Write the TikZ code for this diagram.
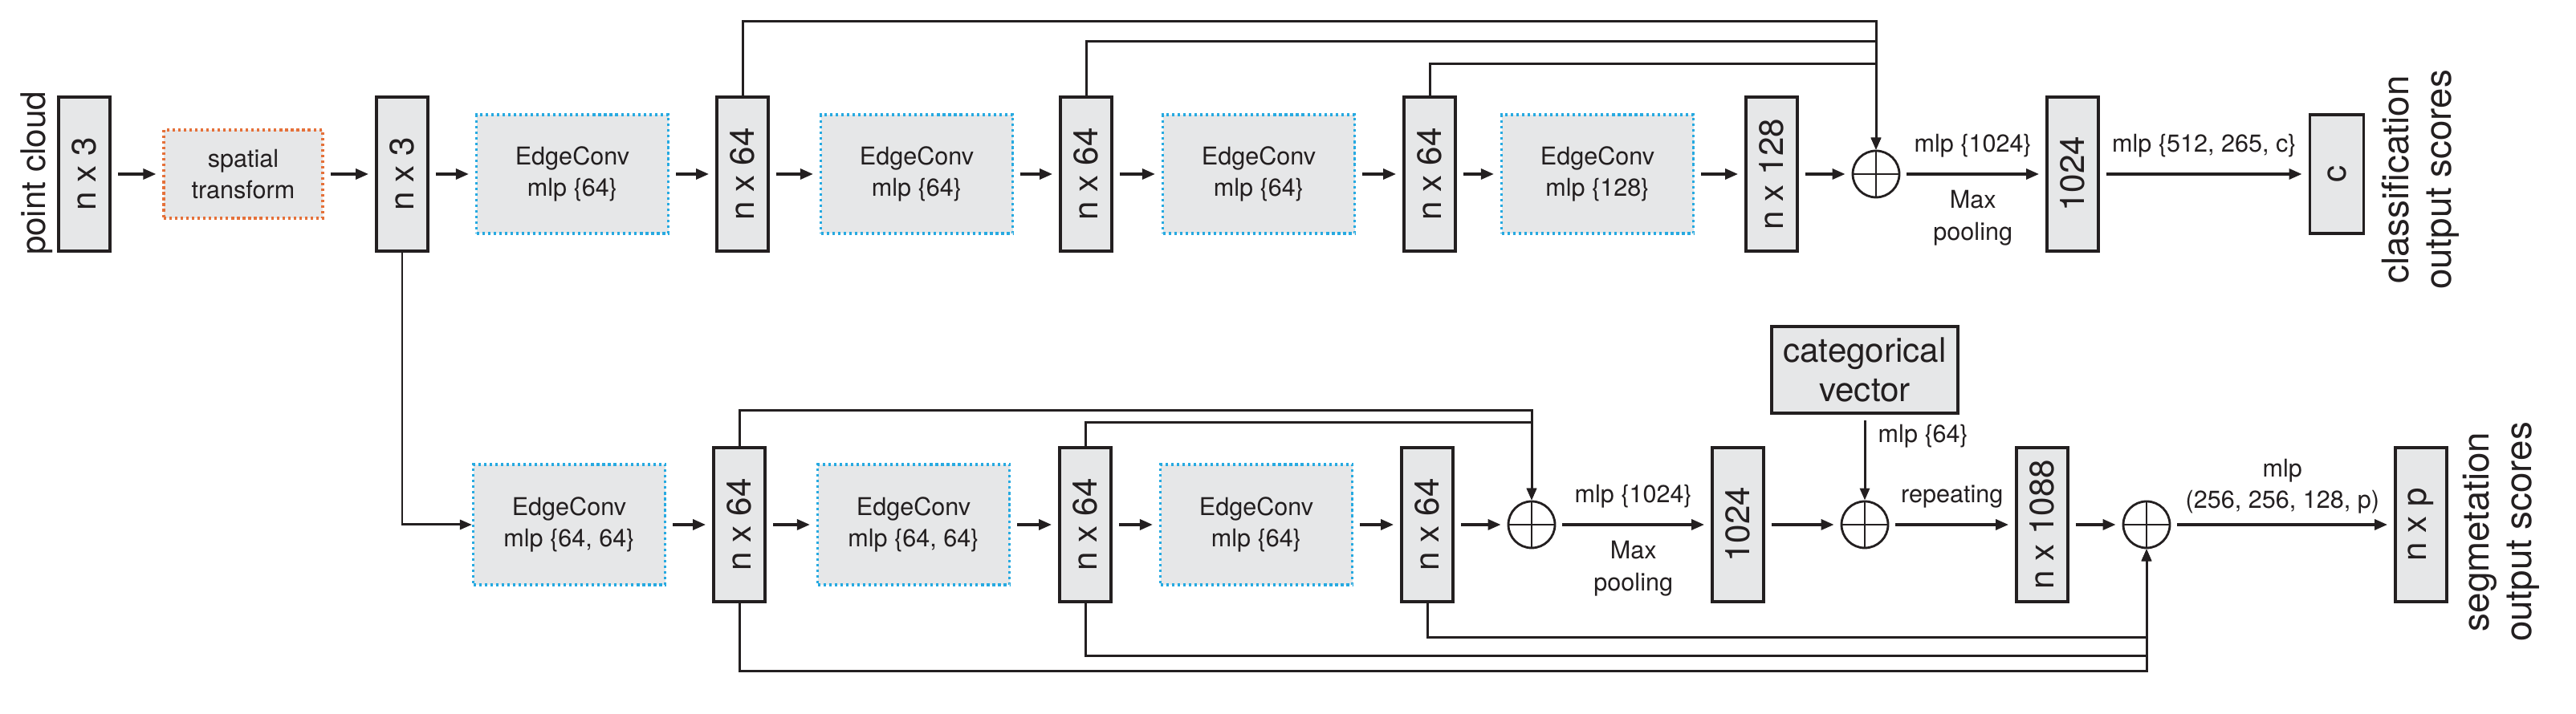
\documentclass[tikz,border=0pt]{standalone}
\usepackage{fontspec}
\setmainfont{TeX Gyre Heros}
\usepackage{tikz}
\usetikzlibrary{arrows.meta}
\definecolor{boxgray}{HTML}{E6E7E8}
\definecolor{edgeblue}{HTML}{27AAE1}
\definecolor{transred}{HTML}{E5713A}
\definecolor{ink}{HTML}{231F20}

\begin{document}
\begin{tikzpicture}[
  feat/.style = {draw=ink, line width=1.1pt, fill=boxgray, rotate=90, minimum width=1.92cm, minimum height=0.64cm, inner sep=0pt, text=ink, font=\fontsize{12}{14}\selectfont},
  conv/.style = {fill=boxgray, draw=edgeblue, line width=0.9pt, dash pattern=on 0.9pt off 1.1pt, minimum width=2.39cm, minimum height=1.48cm, align=center, text=ink, font=\fontsize{8.7}{11}\selectfont},
  sum/.style = {draw=ink, line width=0.8pt, circle, minimum size=0.58cm, inner sep=0pt, path picture={\draw[line width=0.7pt, ink] (path picture bounding box.north) -- (path picture bounding box.south) (path picture bounding box.west) -- (path picture bounding box.east);}},
  flow/.style = {-{Triangle[length=1.6mm,width=1.3mm]}, line width=0.95pt, draw=ink, shorten <=0.08cm, shorten >=0.08cm},
  skipline/.style = {-{Triangle[length=1.5mm,width=1.2mm]}, line width=0.85pt, draw=ink},
  lbl/.style = {font=\fontsize{8.7}{11.3}\selectfont, align=center, text=ink},
  outtext/.style = {rotate=90, align=center, text=ink, font=\fontsize{13}{15}\selectfont}
]
	\useasboundingbox (0,0) rectangle (32.09,8.90);

	\node[outtext, font=\fontsize{12}{14}\selectfont] (pc) at (0.46,6.74) {point cloud};
	\node[feat] (t1) at (1.05,6.73) {n x 3};
	\node[conv, draw=transred, minimum width=1.98cm, minimum height=1.10cm] (st) at (3.03,6.73) {spatial\\transform};
	\node[feat] (t2) at (5.01,6.73) {n x 3};
	\node[conv] (ec1) at (7.13,6.73) {EdgeConv\\mlp \{64\}};
	\node[feat] (f1) at (9.25,6.73) {n x 64};
	\node[conv] (ec2) at (11.42,6.73) {EdgeConv\\mlp \{64\}};
	\node[feat] (f2) at (13.53,6.73) {n x 64};
	\node[conv] (ec3) at (15.68,6.73) {EdgeConv\\mlp \{64\}};
	\node[feat] (f3) at (17.81,6.73) {n x 64};
	\node[conv] (ec4) at (19.90,6.73) {EdgeConv\\mlp \{128\}};
	\node[feat] (f4) at (22.07,6.73) {n x 128};
	\node[sum] (o1) at (23.37,6.73) {};
	\node[feat] (g1) at (25.82,6.73) {1024};
	\node[feat, minimum width=1.48cm, minimum height=0.67cm] (c) at (29.11,6.73) {c};
	\node[outtext] (cls) at (30.15,6.66) {classification\\output scores};

	\node[conv, minimum height=1.50cm] (ec5) at (7.09,2.36) {EdgeConv\\mlp \{64, 64\}};
	\node[feat] (h1) at (9.21,2.36) {n x 64};
	\node[conv, minimum height=1.50cm] (ec6) at (11.38,2.36) {EdgeConv\\mlp \{64, 64\}};
	\node[feat] (h2) at (13.52,2.36) {n x 64};
	\node[conv, minimum height=1.50cm] (ec7) at (15.65,2.36) {EdgeConv\\mlp \{64\}};
	\node[feat] (h3) at (17.78,2.36) {n x 64};
	\node[sum] (o2) at (19.08,2.36) {};
	\node[feat] (g2) at (21.65,2.36) {1024};
	\node[sum] (o3) at (23.23,2.36) {};
	\node[draw=ink, line width=1.1pt, fill=boxgray, minimum width=2.32cm, minimum height=1.08cm, align=center, text=ink, font=\fontsize{12}{14}\selectfont] (cat) at (23.23,4.29) {categorical\\vector};
	\node[feat] (h4) at (25.44,2.36) {n x 1088};
	\node[sum] (o4) at (26.74,2.36) {};
	\node[feat] (out) at (30.16,2.36) {n x p};
	\node[outtext] (seg) at (31.16,2.27) {segmetation\\output scores};

	\draw[flow] (t1) -- (st);
	\draw[flow] (st) -- (t2);
	\draw[flow] (t2) -- (ec1);
	\draw[flow] (ec1) -- (f1);
	\draw[flow] (f1) -- (ec2);
	\draw[flow] (ec2) -- (f2);
	\draw[flow] (f2) -- (ec3);
	\draw[flow] (ec3) -- (f3);
	\draw[flow] (f3) -- (ec4);
	\draw[flow] (ec4) -- (f4);
	\draw[flow] (f4) -- (o1);
	\draw[flow] (o1) -- node[lbl, above=2pt] {mlp \{1024\}} node[lbl, below=2pt] {Max\\pooling} (g1);
	\draw[flow] (g1) -- node[lbl, above=2pt] {mlp \{512, 265, c\}} (c);
	\draw[skipline] (f1) -- ++(0,1.90) -| (o1);
	\draw[skipline] (f2) -- ++(0,1.65) -| (o1);
	\draw[skipline] (f3) -- ++(0,1.37) -| (o1);

	\draw[skipline] (t2) |- (ec5);
	\draw[flow] (ec5) -- (h1);
	\draw[flow] (h1) -- (ec6);
	\draw[flow] (ec6) -- (h2);
	\draw[flow] (h2) -- (ec7);
	\draw[flow] (ec7) -- (h3);
	\draw[flow] (h3) -- (o2);
	\draw[flow] (o2) -- node[lbl, above=2pt] {mlp \{1024\}} node[lbl, below=2pt] {Max\\pooling} (g2);
	\draw[flow] (g2) -- (o3);
	\draw[skipline, shorten <=0.07cm] (cat) -- node[lbl, pos=0.25, right=1pt] {mlp \{64\}} (o3);
	\draw[flow] (o3) -- node[lbl, above=2pt] {repeating} (h4);
	\draw[flow] (h4) -- (o4);
	\draw[flow] (o4) -- node[lbl, above=0pt] {mlp\\(256, 256, 128, p)} (out);
	\draw[skipline] (h1) -- ++(0,1.42) -| (o2);
	\draw[skipline] (h2) -- ++(0,1.27) -| (o2);
	\draw[skipline] (h1) -- ++(0,-1.83) -| (o4);
	\draw[skipline] (h2) -- ++(0,-1.64) -| (o4);
	\draw[skipline] (h3) -- ++(0,-1.41) -| (o4);
\end{tikzpicture}
\end{document}
